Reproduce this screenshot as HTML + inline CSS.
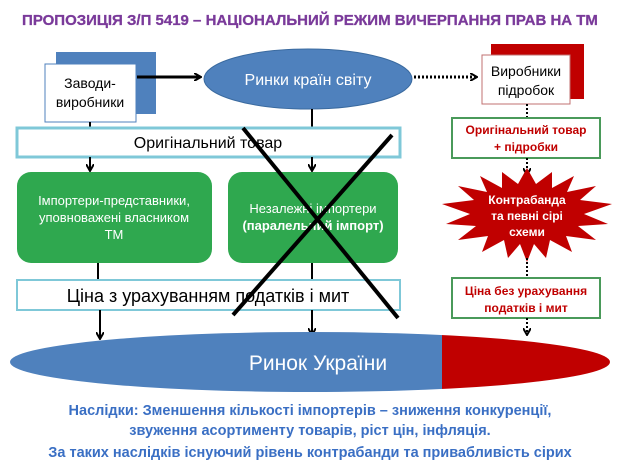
<!DOCTYPE html>
<html><head><meta charset="utf-8"><style>
html,body{margin:0;padding:0;background:#fff;}
svg{display:block;font-family:"Liberation Sans","DejaVu Sans",sans-serif;}
</style></head><body>
<svg width="620" height="465" viewBox="0 0 620 465" xmlns="http://www.w3.org/2000/svg">
<defs>
<marker id="ah" markerWidth="8" markerHeight="8" refX="6" refY="4" orient="auto" markerUnits="userSpaceOnUse"><path d="M0,0 L7,4 L0,8" fill="none" stroke="#000" stroke-width="2"/></marker>
</defs>
<text x="310" y="25" text-anchor="middle" font-size="15" font-weight="bold" fill="#7a3a9a" stroke="#7a3a9a" stroke-width="0.3">ПРОПОЗИЦІЯ  З/П 5419 – НАЦІОНАЛЬНИЙ  РЕЖИМ ВИЧЕРПАННЯ  ПРАВ НА ТМ</text>

<!-- Заводи -->
<rect x="56" y="52" width="100" height="62" fill="#4f81bd"/>
<rect x="45" y="64" width="91" height="58" fill="#fff" stroke="#4f81bd" stroke-width="1"/>
<text x="90" y="88" text-anchor="middle" font-size="14">Заводи-</text>
<text x="90" y="107" text-anchor="middle" font-size="14">виробники</text>
<line x1="137" y1="77" x2="200" y2="77" stroke="#000" stroke-width="3" marker-end="url(#ah)"/>

<ellipse cx="308" cy="79" rx="104" ry="30" fill="#4f81bd" stroke="#3a6a9f" stroke-width="1"/>
<text x="308" y="85" text-anchor="middle" font-size="16" fill="#fff">Ринки країн світу</text>
<line x1="414" y1="77" x2="476" y2="77" stroke="#000" stroke-width="3" stroke-dasharray="2,2" marker-end="url(#ah)"/>

<rect x="491" y="44" width="93" height="55" fill="#c00000"/>
<rect x="482" y="55" width="88" height="49" fill="#fff" stroke="#c07070" stroke-width="1"/>
<text x="526" y="76" text-anchor="middle" font-size="14">Виробники</text>
<text x="526" y="95" text-anchor="middle" font-size="14">підробок</text>
<line x1="527" y1="104" x2="527" y2="118" stroke="#000" stroke-width="2" stroke-dasharray="2,2"/>

<rect x="452" y="118" width="148" height="40" fill="#fff" stroke="#4a9a5a" stroke-width="2"/>
<text x="526" y="134" text-anchor="middle" font-size="12" font-weight="bold" fill="#c00000">Оригінальний товар</text>
<text x="526" y="151" text-anchor="middle" font-size="12" font-weight="bold" fill="#c00000">+ підробки</text>
<line x1="527" y1="158" x2="527" y2="174" stroke="#000" stroke-width="2" stroke-dasharray="2,2" marker-end="url(#ah)"/>

<polygon fill="#c00000" points="527,168 536,184 552,172 552,188 574,176 567,192 596,186 580,200 612,204 584,214 608,224 578,226 596,240 566,236 572,252 550,240 546,258 534,244 527,262 520,244 508,258 504,240 482,252 488,236 458,240 476,226 446,224 470,214 442,204 474,200 458,186 487,192 480,176 502,188 502,172 518,184"/>
<text x="527" y="204" text-anchor="middle" font-size="12" font-weight="bold" fill="#fff">Контрабанда</text>
<text x="527" y="220" text-anchor="middle" font-size="12" font-weight="bold" fill="#fff">та певні сірі</text>
<text x="527" y="236" text-anchor="middle" font-size="12" font-weight="bold" fill="#fff">схеми</text>
<line x1="527" y1="258" x2="527" y2="278" stroke="#000" stroke-width="2" stroke-dasharray="2,2"/>

<rect x="452" y="278" width="148" height="40" fill="#fff" stroke="#4a9a5a" stroke-width="2"/>
<text x="526" y="295" text-anchor="middle" font-size="12" font-weight="bold" fill="#c00000">Ціна без урахування</text>
<text x="526" y="312" text-anchor="middle" font-size="12" font-weight="bold" fill="#c00000">податків і мит</text>
<line x1="527" y1="318" x2="527" y2="334" stroke="#000" stroke-width="2" stroke-dasharray="2,2" marker-end="url(#ah)"/>

<!-- left flow -->
<line x1="90" y1="122" x2="90" y2="128" stroke="#000" stroke-width="2"/>
<line x1="312" y1="109" x2="312" y2="128" stroke="#000" stroke-width="2"/>
<rect x="17" y="128" width="383" height="29" fill="#fff" stroke="#7fc8d8" stroke-width="3"/>
<text x="208" y="148" text-anchor="middle" font-size="16">Оригінальний товар</text>
<line x1="90" y1="157" x2="90" y2="170" stroke="#000" stroke-width="2" marker-end="url(#ah)"/>
<line x1="312" y1="157" x2="312" y2="170" stroke="#000" stroke-width="2" marker-end="url(#ah)"/>

<rect x="17" y="172" width="195" height="91" rx="14" fill="#2fa84f"/>
<text x="114" y="205" text-anchor="middle" font-size="13" fill="#fff">Імпортери-представники,</text>
<text x="114" y="222" text-anchor="middle" font-size="13" fill="#fff">уповноважені власником</text>
<text x="114" y="239" text-anchor="middle" font-size="13" fill="#fff">ТМ</text>
<rect x="228" y="172" width="170" height="91" rx="14" fill="#2fa84f"/>
<text x="313" y="213" text-anchor="middle" font-size="13" fill="#fff">Незалежні імпортери</text>
<text x="313" y="230" text-anchor="middle" font-size="13" font-weight="bold" fill="#fff">(паралельний імпорт)</text>

<line x1="98" y1="263" x2="98" y2="280" stroke="#000" stroke-width="2"/>
<line x1="312" y1="263" x2="312" y2="280" stroke="#000" stroke-width="2"/>
<rect x="17" y="280" width="383" height="30" fill="#fff" stroke="#7fc8d8" stroke-width="2"/>
<text x="208" y="302" text-anchor="middle" font-size="18">Ціна з урахуванням податків і мит</text>
<line x1="100" y1="310" x2="100" y2="338" stroke="#000" stroke-width="2" marker-end="url(#ah)"/>
<line x1="312" y1="310" x2="312" y2="334" stroke="#000" stroke-width="2" marker-end="url(#ah)"/>

<line x1="243" y1="128" x2="398" y2="318" stroke="#000" stroke-width="4"/>
<line x1="392" y1="135" x2="233" y2="315" stroke="#000" stroke-width="4"/>

<clipPath id="ec"><ellipse cx="310" cy="362" rx="300" ry="30"/></clipPath>
<g clip-path="url(#ec)">
<rect x="0" y="330" width="442" height="70" fill="#4f81bd"/>
<rect x="442" y="330" width="180" height="70" fill="#c00000"/>
</g>
<text x="318" y="370" text-anchor="middle" font-size="21" fill="#fff">Ринок України</text>

<g font-size="14.5" font-weight="bold" fill="#3a6fc4" text-anchor="middle">
<text x="310" y="415">Наслідки: Зменшення кількості імпортерів – зниження конкуренції,</text>
<text x="310" y="435">звуження асортименту товарів, ріст цін, інфляція.</text>
<text x="310" y="457">За таких наслідків існуючий рівень контрабанди та привабливість сірих</text>
</g>
</svg>
</body></html>
